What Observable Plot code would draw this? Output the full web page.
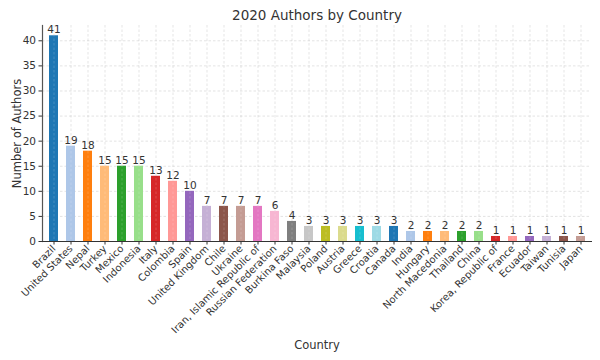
<!DOCTYPE html>
<html>
<head>
<meta charset="utf-8">
<script src="https://cdn.jsdelivr.net/npm/d3@7"></script>
<script src="https://cdn.jsdelivr.net/npm/@observablehq/plot@0.6"></script>
<style>
  html, body { margin: 0; padding: 0; background: #fff; }
  #chart svg { font-family: "DejaVu Sans", sans-serif; }
</style>
</head>
<body>
<div id="chart"></div>
<script>
const countries = ["Brazil", "United States", "Nepal", "Turkey", "Mexico", "Indonesia", "Italy", "Colombia", "Spain", "United Kingdom", "Chile", "Ukraine", "Iran, Islamic Republic of", "Russian Federation", "Burkina Faso", "Malaysia", "Poland", "Austria", "Greece", "Croatia", "Canada", "India", "Hungary", "North Macedonia", "Thailand", "China", "Korea, Republic of", "France", "Ecuador", "Taiwan", "Tunisia", "Japan"];
const authors = [41, 19, 18, 15, 15, 15, 13, 12, 10, 7, 7, 7, 7, 6, 4, 3, 3, 3, 3, 3, 3, 2, 2, 2, 2, 2, 1, 1, 1, 1, 1, 1];
const palette = ["#1f77b4", "#aec7e8", "#ff7f0e", "#ffbb78", "#2ca02c", "#98df8a", "#d62728", "#ff9896", "#9467bd", "#c5b0d5", "#8c564b", "#c49c94", "#e377c2", "#f7b6d2", "#7f7f7f", "#c7c7c7", "#bcbd22", "#dbdb8d", "#17becf", "#9edae5"];
const yTicks = [0, 5, 10, 15, 20, 25, 30, 35, 40];
const titleText = "2020 Authors by Country";
const xLabel = "Country";
const yLabel = "Number of Authors";

const data = countries.map((c, i) => ({country: c, value: authors[i]}));
const colorRange = countries.map((c, i) => palette[i % palette.length]);

const chart = Plot.plot({
  width: 600,
  height: 360,
  marginLeft: 42,
  marginRight: 9,
  marginTop: 25,
  marginBottom: 119,
  style: {fontFamily: "DejaVu Sans, sans-serif", background: "#fff"},
  x: {domain: countries, paddingInner: 0.5, paddingOuter: 0.22, label: null},
  y: {domain: [0, 43.05], label: null},
  color: {type: "ordinal", domain: countries, range: colorRange},
  marks: [
    Plot.gridY(yTicks, {stroke: "#b0b0b0", strokeOpacity: 0.5, strokeDasharray: "2.5,2", strokeWidth: 0.7}),
    Plot.gridX({stroke: "#b0b0b0", strokeOpacity: 0.5, strokeDasharray: "2.5,2", strokeWidth: 0.7}),
    Plot.barY(data, {x: "country", y: "value", fill: "country"}),
    Plot.gridX({stroke: "#ffffff", strokeOpacity: 0.25, strokeDasharray: "2.5,2", strokeWidth: 0.7}),
    Plot.text(data, {x: "country", y: "value", text: d => String(d.value), dy: -6, fontSize: 10.5, fill: "#333"}),
    Plot.axisY(yTicks, {tickSize: 3.5, fontSize: 10.5, color: "#333", stroke: "#333", label: null, tickPadding: 3}),
    Plot.axisX({tickSize: 3.5, tickRotate: -45, fontSize: 10, color: "#333", stroke: "#333", label: null, tickPadding: 2}),
    Plot.frame({anchor: "left", stroke: "#555", strokeWidth: 1.2}),
    Plot.frame({anchor: "bottom", stroke: "#333", strokeWidth: 1}),
    Plot.text([titleText], {frameAnchor: "top", dy: -10, fontSize: 13.5, fill: "#333", lineAnchor: "middle", textAnchor: "middle"}),
    Plot.text([yLabel], {frameAnchor: "left", dx: -25, rotate: -90, fontSize: 11.5, fill: "#333", lineAnchor: "middle", textAnchor: "middle"}),
    Plot.text([xLabel], {frameAnchor: "bottom", dy: 104, fontSize: 11.5, fill: "#333", lineAnchor: "middle", textAnchor: "middle"})
  ]
});
document.getElementById("chart").appendChild(chart);
</script>
</body>
</html>
